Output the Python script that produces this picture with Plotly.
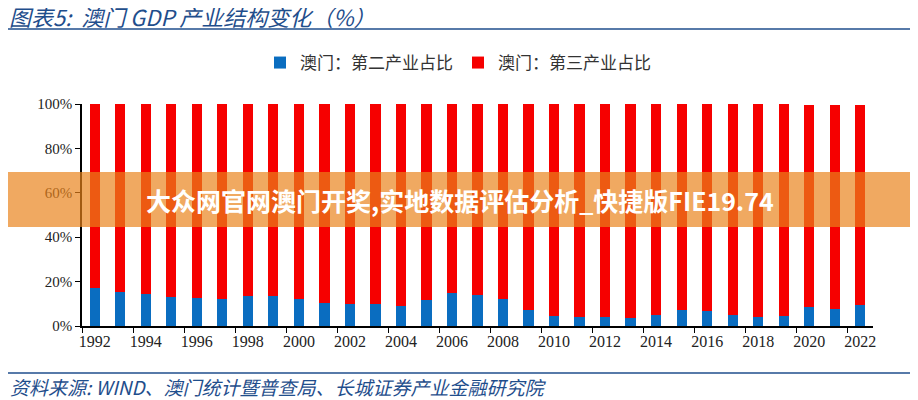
"""
澳门 GDP 产业结构变化 - stacked bar chart
"""

import plotly.graph_objects as go

years = list(range(1992, 2023))

# 第二产业占比 (%)
secondary = [17.0, 15.2, 14.3, 13.1, 12.5, 12.3, 13.4, 13.5, 12.2, 10.4,
             9.8, 9.8, 8.9, 11.6, 14.9, 14.1, 12.0, 7.4, 4.7, 4.1,
             4.1, 3.6, 5.0, 7.4, 6.6, 5.0, 4.1, 4.4, 8.6, 7.5, 9.5]

# 第三产业占比 (%)
tertiary = [83.0, 84.8, 85.7, 86.9, 87.5, 87.7, 86.6, 86.5, 87.8, 89.6,
            90.2, 90.2, 91.1, 88.4, 85.1, 85.9, 88.0, 92.6, 95.3, 95.9,
            95.9, 96.4, 95.0, 92.6, 93.4, 95.0, 95.9, 95.6, 90.9, 92.0, 90.0]

y_ticks = [0, 20, 40, 60, 80, 100]
y_tick_labels = ["0%", "20%", "40%", "60%", "80%", "100%"]
x_ticks = list(range(1992, 2023, 2))

title_text = "图表5:  澳门 GDP 产业结构变化（%）"
source_text = "资料来源: WIND、澳门统计暨普查局、长城证券产业金融研究院"
banner_text = "大众网官网澳门开奖,实地数据评估分析_快捷版FIE19.74"

fig = go.Figure()

fig.add_trace(go.Bar(
    x=years, y=secondary,
    name="澳门：第二产业占比",
    marker=dict(color="#0A6DC0", line=dict(width=0)),
))
fig.add_trace(go.Bar(
    x=years, y=tertiary,
    name="澳门：第三产业占比",
    marker=dict(color="#F60000", line=dict(width=0)),
))

# the page body adds an 8px margin, so the figure is drawn 8px smaller
# and every page position below is shifted back by that offset
OFF = 8
W, H = 918 - OFF, 400 - OFF
L, R, T, B = 82 - OFF, 45, 104 - OFF, 74
pw, ph = W - L - R, H - T - B


def px(x):
    return (x - OFF - L) / pw


def py(y):
    return (H - B - (y - OFF)) / ph


fig.update_layout(
    width=W, height=H,
    barmode="stack",
    bargap=0.6,
    plot_bgcolor="white",
    paper_bgcolor="white",
    margin=dict(l=L, r=R, t=T, b=B, autoexpand=False),
    font=dict(family="Liberation Serif, serif", color="#222"),
    legend=dict(
        orientation="h",
        x=px(458), xanchor="center",
        y=py(63), yanchor="middle",
        font=dict(family="Noto Sans CJK SC", size=17, color="#333"),
        itemwidth=30,
        traceorder="normal",
    ),
    xaxis=dict(
        range=[1991.5, 2022.5],
        tickvals=x_ticks,
        ticktext=[str(v) for v in x_ticks],
        ticks="",
        showline=True, linecolor="black", linewidth=1.5,
        tickfont=dict(size=16, family="Liberation Serif"),
        minor=dict(ticks="outside", tick0=1993.5, dtick=2,
                   ticklen=5, tickcolor="black", tickwidth=1),
        showgrid=False,
    ),
    yaxis=dict(
        range=[0, 100],
        tickvals=y_ticks,
        ticktext=y_tick_labels,
        ticks="outside", ticklen=5, tickcolor="black",
        showline=True, linecolor="black", linewidth=1.5,
        tickfont=dict(size=15, family="Liberation Serif"),
        showgrid=False,
    ),
)

# title and source
fig.add_annotation(
    text=title_text, xref="paper", yref="paper",
    x=px(8), y=py(16), xanchor="left", yanchor="middle",
    showarrow=False, borderpad=0,
    font=dict(family="Noto Sans CJK SC", size=22, color="#1F4E8C", style="italic"),
)
fig.add_annotation(
    text=source_text, xref="paper", yref="paper",
    x=px(8), y=py(386), xanchor="left", yanchor="middle",
    showarrow=False,
    font=dict(family="Noto Sans CJK SC", size=19, color="#1F4E8C", style="italic"),
)

fig.add_shape(type="line", xref="paper", yref="paper",
              x0=px(8), x1=px(912), y0=py(29), y1=py(29),
              line=dict(color="#1F4E8C", width=1.5))
fig.add_shape(type="line", xref="paper", yref="paper",
              x0=px(8), x1=px(912), y0=py(373), y1=py(373),
              line=dict(color="#1F4E8C", width=1.5))

# overlay banner
fig.add_shape(type="rect", xref="paper", yref="paper",
              x0=px(8), x1=px(918), y0=py(227), y1=py(172),
              fillcolor="rgba(233,130,26,0.69)", line=dict(width=0),
              layer="above")
fig.add_annotation(
    text=banner_text, xref="paper", yref="paper",
    x=px(460), y=py(200), xanchor="center", yanchor="middle",
    showarrow=False,
    font=dict(family="Noto Sans CJK SC", size=25, color="white", weight="bold"),
)

fig.write_html("out.html")
